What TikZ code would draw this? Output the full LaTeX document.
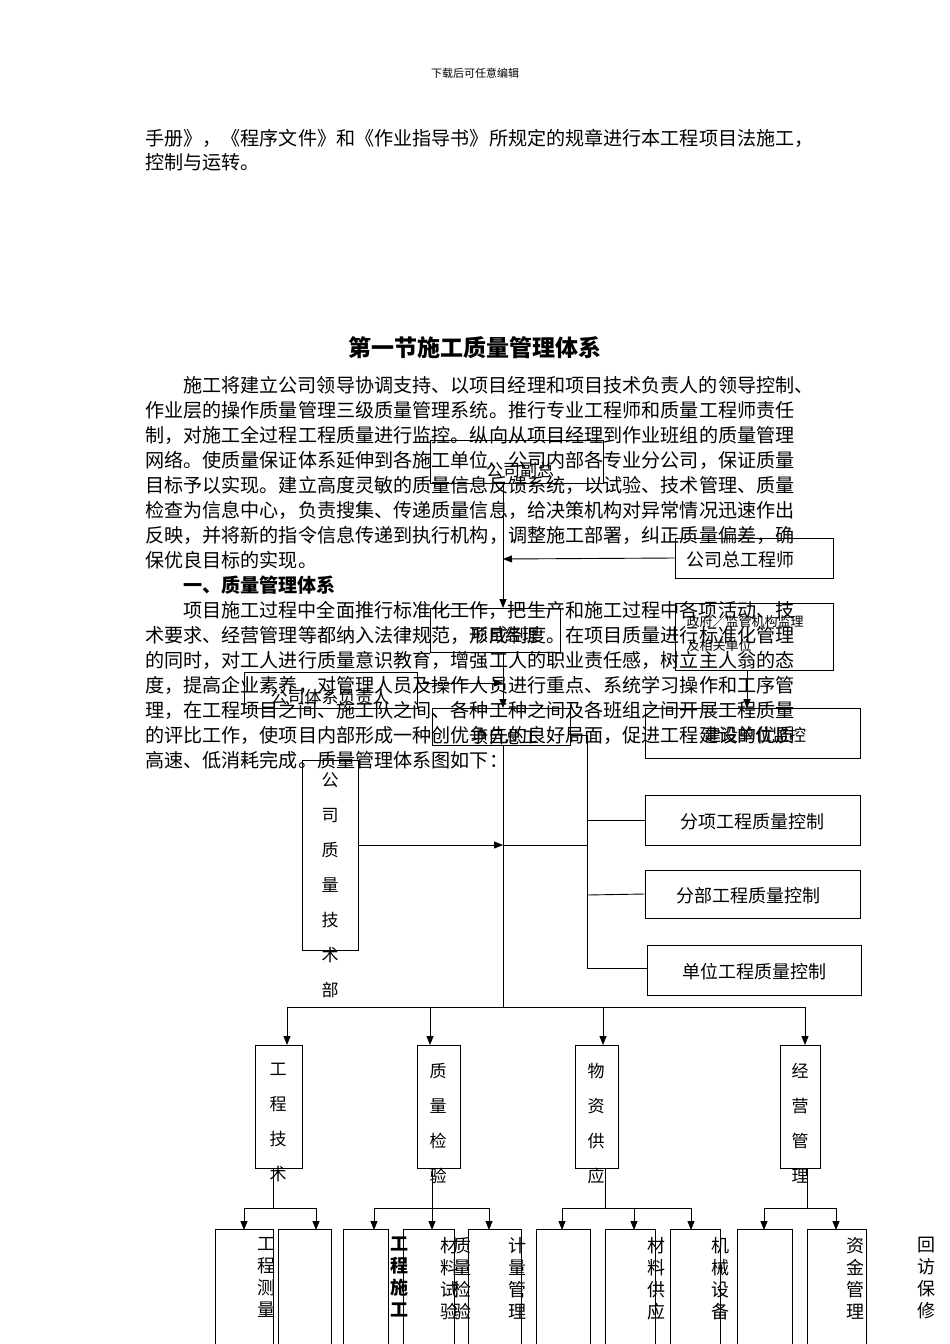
\documentclass[tikz,border=0pt]{standalone}
\usepackage{fontspec}
\setmainfont{Noto Sans CJK SC}
\usetikzlibrary{arrows.meta}
\begin{document}
\begin{tikzpicture}[x=1pt,y=-1pt,
  body/.style={anchor=west,inner sep=0,font=\fontsize{19.1}{20}\selectfont},
  bx/.style={draw,line width=0.9pt,inner sep=0},
  lbl/.style={inner sep=0,font=\fontsize{17}{20}\selectfont},
  vt/.style={inner sep=0,align=center,font=\fontsize{17}{35}\selectfont},
  vs/.style={inner sep=0,align=center,anchor=north,font=\fontsize{18}{22}\selectfont},
  ln/.style={line width=0.9pt},
  ar/.style={line width=0.9pt,-{Triangle[length=9pt,width=7pt]}}]
\useasboundingbox (0,0) rectangle (950,1344);
\fill[white] (0,0) rectangle (950,1344);
\node[inner sep=0,font=\fontsize{11}{12}\selectfont] (hd) at (475,73) {下载后可任意编辑};
\node[body] (l1) at (145,138) {手册》，《程序文件》和《作业指导书》所规定的规章进行本工程项目法施工，};
\node[body] (l2) at (145,162) {控制与运转。};
\node[inner sep=0,font=\fontsize{23}{26}\selectfont\bfseries] (tt) at (475,348) {第一节施工质量管理体系};
\node[body] (p1) at (183,385) {施工将建立公司领导协调支持、以项目经理和项目技术负责人的领导控制、};
\node[body] (p2) at (145,410) {作业层的操作质量管理三级质量管理系统。推行专业工程师和质量工程师责任};
\node[body] (p3) at (145,435) {制，对施工全过程工程质量进行监控。纵向从项目经理到作业班组的质量管理};
\node[body] (p4) at (145,460) {网络。使质量保证体系延伸到各施工单位、公司内部各专业分公司，保证质量};
\node[body] (p5) at (145,485) {目标予以实现。建立高度灵敏的质量信息反馈系统，以试验、技术管理、质量};
\node[body] (p6) at (145,510) {检查为信息中心，负责搜集、传递质量信息，给决策机构对异常情况迅速作出};
\node[body] (p7) at (145,535) {反映，并将新的指令信息传递到执行机构，调整施工部署，纠正质量偏差，确};
\node[body] (p8) at (145,560) {保优良目标的实现。};
\node[body,font=\fontsize{19.1}{20}\selectfont\bfseries] (s1) at (183,585) {一、质量管理体系};
\node[body] (q1) at (183,610) {项目施工过程中全面推行标准化工作，把生产和施工过程中各项活动、技};
\node[body] (q2) at (145,635) {术要求、经营管理等都纳入法律规范，形成制度。在项目质量进行标准化管理};
\node[body] (q3) at (145,660) {的同时，对工人进行质量意识教育，增强工人的职业责任感，树立主人翁的态};
\node[body] (q4) at (145,685) {度，提高企业素养，对管理人员及操作人员进行重点、系统学习操作和工序管};
\node[body] (q5) at (145,710) {理，在工程项目之间、施工队之间、各种工种之间及各班组之间开展工程质量};
\node[body] (q6) at (145,735) {的评比工作，使项目内部形成一种创优争先的良好局面，促进工程建设的优质};
\node[body] (q7) at (145,760) {高速、低消耗完成。质量管理体系图如下：};
% top boxes
\node[bx,minimum width=173pt,minimum height=43pt] (fz) at (516.5,461.5) {};
\node[lbl] at (520,470) {公司副总};
\node[bx,minimum width=158pt,minimum height=40pt] (zg) at (754,558) {};
\node[lbl,font=\fontsize{18}{20}\selectfont] at (740,560) {公司总工程师};
\node[bx,minimum width=130pt,minimum height=44pt] (jl) at (495,630) {};
\node[lbl] at (505,635) {项目经理};
\node[bx,minimum width=158pt,minimum height=67pt] (zf) at (754,636.5) {};
\node[inner sep=0,align=left,font=\fontsize{13}{24}\selectfont] at (745,633) {政府／监管机构监理\\及相关单位};
\node[bx,minimum width=173pt,minimum height=36pt] (tx) at (330.5,690) {};
\node[lbl] at (330,697) {公司体系负责人};
\node[bx,minimum width=138pt,minimum height=37pt] (zgg) at (501,726.5) {};
\node[lbl] at (505,737) {项目总工};
\node[bx,minimum width=215pt,minimum height=50pt] (js) at (752.5,733) {};
\node[lbl] at (755,735) {建设单位监控};
\node[bx,minimum width=215pt,minimum height=50pt] (fx) at (752.5,820) {};
\node[lbl,font=\fontsize{18}{20}\selectfont] at (752,822) {分项工程质量控制};
\node[bx,minimum width=215pt,minimum height=48pt] (fb) at (752.5,894) {};
\node[lbl,font=\fontsize{18}{20}\selectfont] at (748,896) {分部工程质量控制};
\node[bx,minimum width=214pt,minimum height=50pt] (dw) at (754,970) {};
\node[lbl,font=\fontsize{18}{20}\selectfont] at (754,972) {单位工程质量控制};
\node[bx,minimum width=56pt,minimum height=190pt] (js2) at (330,855) {};
\node[vt,anchor=north] at (330,772) {公\\司\\质\\量\\技\\术\\部};
% connectors
\coordinate (c1) at (503,559);
\coordinate (c2) at (503,683);
\coordinate (c3) at (503,845);
\coordinate (c4) at (587,735);
\draw[ln] (503,483) -- (503,598);
\draw[ar] (503,560) -- (503,608);
\draw[ar] (zg.west) -- (c1);
\draw[ln] (503,652) -- (503,700);
\draw[ar] (503,660) -- (503,708);
\draw[ar] (tx.east |- c2) -- (c2);
\draw[ar] (747,670) -- (747,708);
\draw[ln] (zgg.east |- c4) -- (c4) -- (587,968) -- (dw.west |- 0,968);
\draw[ln] (587,820) -- (fx.west);
\draw[ln] (587,895) -- (fb.west);
\draw[ar] (js2.east |- c3) -- (c3);
\draw[ln] (c3) -- (587,845);
\draw[ln] (503,745) -- (503,1007);
\draw[ln] (287,1007) -- (805,1007);
% second level
\node[bx,minimum width=47pt,minimum height=123pt] (gc) at (278.5,1106.5) {};
\node[bx,minimum width=43pt,minimum height=123pt] (zl) at (438.5,1106.5) {};
\node[bx,minimum width=43pt,minimum height=123pt] (wz) at (596.5,1106.5) {};
\node[bx,minimum width=40pt,minimum height=123pt] (jy) at (800,1106.5) {};
\node[vt,anchor=north] at (278,1063) {工\\程\\技\\术};
\node[vt,anchor=north] at (438,1063) {质\\量\\检\\验};
\node[vt,anchor=north] at (596,1063) {物\\资\\供\\应};
\node[vt,anchor=north] at (800,1063) {经\\营\\管\\理};
\draw[ar] (287,1007) -- (287,1045);
\draw[ar] (430,1007) -- (430,1045);
\draw[ar] (603,1007) -- (603,1045);
\draw[ar] (805,1007) -- (805,1045);
% third level boxes
\foreach \n/\a/\b in {b1/215/273,b2/278/331,b3/343/388,b4/403/454,b5/468/521,b6/536/590,b7/605/655,b8/670/720,b9/737/792,b10/807/866}
  \draw[ln] (\a,1350) -- (\a,1229) -- (\b,1229) -- (\b,1350);
\draw[ln] (273,1168) -- (273,1208); \draw[ln] (244,1208) -- (316,1208);
\draw[ar] (244,1208) -- (244,1230); \draw[ar] (316,1208) -- (316,1230);
\draw[ln] (432,1168) -- (432,1208); \draw[ln] (374,1208) -- (489,1208);
\draw[ar] (374,1208) -- (374,1230); \draw[ar] (432,1208) -- (432,1230); \draw[ar] (489,1208) -- (489,1230);
\draw[ln] (605,1168) -- (605,1208); \draw[ln] (562,1208) -- (691,1208);
\draw[ar] (562,1208) -- (562,1230); \draw[ar] (634,1208) -- (634,1230); \draw[ar] (691,1208) -- (691,1230);
\draw[ln] (807,1168) -- (807,1208); \draw[ln] (764,1208) -- (836,1208);
\draw[ar] (764,1208) -- (764,1230); \draw[ar] (836,1208) -- (836,1230);
\node[vs] at (266,1237) {工\\程\\测\\量};
\node[vs,font=\fontsize{18}{22}\selectfont\bfseries] at (399,1237) {工\\程\\施\\工};
\node[vs] at (449,1237) {材\\料\\试\\验};
\node[vs] at (462,1237) {质\\量\\检\\验};
\node[vs] at (517,1237) {计\\量\\管\\理};
\node[vs] at (656,1237) {材\\料\\供\\应};
\node[vs] at (720,1237) {机\\械\\设\\备};
\node[vs] at (855,1237) {资\\金\\管\\理};
\node[vs] at (926,1237) {回\\访\\保\\修};
\end{tikzpicture}
\end{document}
